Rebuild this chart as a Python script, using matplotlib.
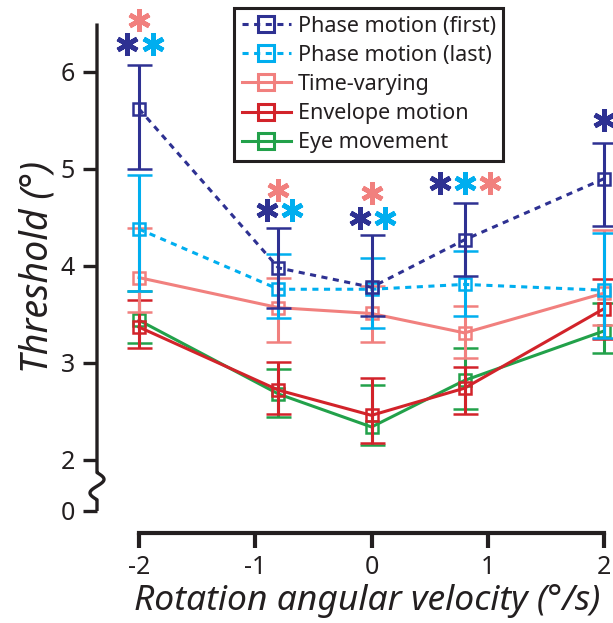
import matplotlib
matplotlib.use("Agg")
import matplotlib.pyplot as plt
import numpy as np
from matplotlib.lines import Line2D

plt.rcParams['font.family'] = ['Noto Sans', 'DejaVu Sans']

# rotation angular velocity (deg/s)
velocity = [-2, -0.8, 0, 0.8, 2]

labels = ["Phase motion (first)", "Phase motion (last)", "Time-varying",
          "Envelope motion", "Eye movement"]
colors = ["#2E3192", "#00AEEF", "#F1807E", "#D2232A", "#22A14A"]
styles = ["dotted", "dotted", "solid", "solid", "solid"]

# threshold (deg): mean, upper and lower end of error bar
mean = [
    [5.62, 3.98, 3.78, 4.27, 4.90],
    [4.38, 3.76, 3.76, 3.81, 3.75],
    [3.88, 3.57, 3.51, 3.31, 3.72],
    [3.37, 2.72, 2.46, 2.74, 3.56],
    [3.44, 2.68, 2.34, 2.82, 3.33],
]
upper = [
    [6.07, 4.39, 4.32, 4.65, 5.27],
    [4.94, 4.12, 4.08, 4.15, 4.34],
    [4.39, 3.88, 3.79, 3.59, 4.37],
    [3.65, 3.01, 2.85, 2.96, 3.87],
    [3.74, 2.94, 2.77, 3.15, 3.62],
]
lower = [
    [5.00, 3.57, 3.48, 3.90, 4.41],
    [3.74, 3.46, 3.36, 3.48, 3.26],
    [3.53, 3.22, 3.22, 3.05, 3.39],
    [3.15, 2.47, 2.17, 2.47, 3.25],
    [3.21, 2.44, 2.15, 2.53, 3.10],
]

# significance asterisks: x, y, colour index
star_x = [-2.1, -1.88, -2, -0.9, -0.68, -0.8, -0.1, 0.12, 0.0, 0.59, 0.8, 1.02, 2.0]
star_y = [6.29, 6.29, 6.54, 4.58, 4.58, 4.78, 4.49, 4.49, 4.75, 4.86, 4.86, 4.86, 5.50]
star_c = [0, 1, 2, 0, 1, 2, 0, 1, 2, 0, 1, 2, 0]

ink = "#231F20"
zero_pos = 1.474

fig = plt.figure(figsize=(6.13, 6.23), dpi=100)
ax = fig.add_axes([97 / 613, 90 / 623, 516 / 613, 533 / 623])
ax.set_xlim(-2.361, 2.077)
ax.set_ylim(1.247, 6.742)

handles = []
order = [4, 3, 2, 1, 0]
for i in order:
    m = np.array(mean[i])
    yerr = [m - np.array(lower[i]), np.array(upper[i]) - m]
    ls = (0, (2.0, 1.8)) if styles[i] == "dotted" else "-"
    cont = ax.errorbar(velocity, m, yerr=yerr, color=colors[i], lw=2.2, ls=ls,
                       marker="s", ms=8.5, mfc="none", mec=colors[i], mew=1.8,
                       elinewidth=2.2, capsize=9, capthick=2.2, clip_on=False,
                       zorder=3 + (4 - i))
    for art in cont.get_children():
        art.set_clip_on(False)

for i in range(5):
    ls = (0, (2.0, 1.8)) if styles[i] == "dotted" else "-"
    handles.append(Line2D([], [], color=colors[i], lw=2.2, ls=ls, marker="s",
                          ms=11, mfc="none", mec=colors[i], mew=2.2))

for x, y, c in zip(star_x, star_y, star_c):
    ax.plot(x, y, marker=(6, 2, 0), ms=16, mew=3.4, color=colors[c],
            clip_on=False, zorder=10)

leg = ax.legend(handles, labels, loc="upper left",
                bbox_to_anchor=(137 / 516, 1 - 8 / 533),
                prop={"size": 15.5}, frameon=True,
                fancybox=False, framealpha=1, edgecolor=ink,
                handlelength=2.3, handletextpad=0.3, labelspacing=0.38,
                borderpad=0.35, borderaxespad=0)
leg.get_frame().set_linewidth(2.2)
for txt in leg.get_texts():
    txt.set_color(ink)

# axes styling
ax.spines["top"].set_visible(False)
ax.spines["right"].set_visible(False)
ax.spines["left"].set_visible(False)
ax.spines["bottom"].set_bounds(-2, 2)
ax.spines["bottom"].set_linewidth(3)
ax.spines["bottom"].set_color(ink)

# left axis with a break between 0 and 2
tr = ax.get_yaxis_transform()
t = np.linspace(0, 1, 60)
wave_y = 1.59 + t * (1.87 - 1.59)
wave_x = -7 / 516 * np.sin(2 * np.pi * t)
yy = np.concatenate([[zero_pos], wave_y, [6.5]])
xx = np.concatenate([[0], wave_x, [0]])
ax.plot(xx, yy, color=ink, lw=2.4, transform=tr, clip_on=False, zorder=2,
        solid_capstyle="butt")

ax.set_xticks([-2, -1, 0, 1, 2])
ax.set_xticklabels(["-2", "-1", "0", "1", "2"])
ax.set_yticks([zero_pos, 2, 3, 4, 5, 6])
ax.set_yticklabels(["0", "2", "3", "4", "5", "6"])
ax.tick_params(axis="x", length=11, width=3, color=ink, labelsize=18, pad=5,
               labelcolor=ink)
ax.tick_params(axis="y", length=10, width=2.4, color=ink, labelsize=18, pad=6,
               labelcolor=ink)

ax.set_xlabel("Rotation angular velocity (°/s)", fontsize=25.5, style="italic",
              color=ink)
ax.xaxis.set_label_coords(0.523, -0.095)
ax.set_ylabel("Threshold (°)", fontsize=27, style="italic",
              color=ink, labelpad=3)

fig.savefig("out.png", dpi=100)
